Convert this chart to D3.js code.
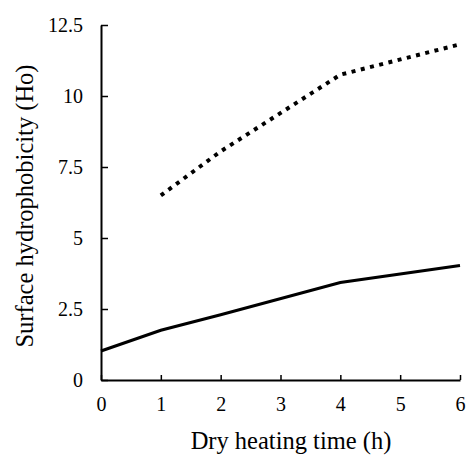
<!DOCTYPE html>
<html>
<head>
<meta charset="utf-8">
<script src="https://cdn.jsdelivr.net/npm/d3@7"></script>
<style>
  body { margin: 0; background: #fff; }
  svg { display: block; }
</style>
</head>
<body>
<div id="chart"></div>
<script>
// data
var solidX = [0, 1, 2, 4, 6];
var solidY = [1.02, 1.75, 2.3, 3.43, 4.03];
var dottedX = [1, 2, 4, 6];
var dottedY = [6.5, 8.05, 10.75, 11.82];
var xTicks = [0, 1, 2, 3, 4, 5, 6];
var yTicks = [0, 2.5, 5, 7.5, 10, 12.5];

var serif = "'Liberation Serif', 'DejaVu Serif', serif";
var width = 467, height = 464;
var margin = { top: 25, right: 7, bottom: 84, left: 101 };

var svg = d3.select("#chart").append("svg")
    .attr("width", width)
    .attr("height", height);

//scales
var xa = d3.scaleLinear()
    .domain([0, 6])
    .range([margin.left, width - margin.right]);

var ya = d3.scaleLinear()
    .domain([0, 12.5])
    .range([height - margin.bottom, margin.top]);

var xAxis = d3.axisBottom(xa)
    .tickValues(xTicks)
    .tickFormat(d3.format("d"))
    .tickSizeInner(-5)
    .tickSizeOuter(0)
    .tickPadding(17);

var yAxis = d3.axisLeft(ya)
    .tickValues(yTicks)
    .tickFormat(function(d) { return String(d); })
    .tickSizeInner(-7)
    .tickSizeOuter(0)
    .tickPadding(18);

svg.append("g")
    .attr("class", "x axis")
    .attr("transform", "translate(0," + ya(0) + ")")
    .call(xAxis);

svg.append("g")
    .attr("class", "y axis")
    .attr("transform", "translate(" + xa(0) + ",0)")
    .call(yAxis);

svg.selectAll(".axis")
    .attr("font-family", serif)
    .attr("font-size", 20);
svg.selectAll(".axis .domain").attr("stroke", "#000").attr("stroke-width", 2);
svg.selectAll(".axis .tick line").attr("stroke", "#000").attr("stroke-width", 1.5);

//lines
var line = d3.line()
    .x(function(d) { return xa(d[0]); })
    .y(function(d) { return ya(d[1]); });

svg.append("path")
    .datum(d3.zip(solidX, solidY))
    .attr("d", line)
    .attr("fill", "none")
    .attr("stroke", "#000")
    .attr("stroke-width", 3);

svg.append("path")
    .datum(d3.zip(dottedX, dottedY))
    .attr("d", line)
    .attr("fill", "none")
    .attr("stroke", "#000")
    .attr("stroke-width", 4)
    .style("stroke-dasharray", "4,5.5");

//axis titles
svg.append("text")
    .attr("font-family", serif)
    .attr("font-size", 24.5)
    .attr("x", 291)
    .attr("y", 449)
    .style("text-anchor", "middle")
    .text("Dry heating time (h)");

svg.append("text")
    .attr("font-family", serif)
    .attr("font-size", 24.5)
    .attr("transform", "translate(33,206) rotate(-90)")
    .style("text-anchor", "middle")
    .text("Surface hydrophobicity (Ho)");
</script>
</body>
</html>
